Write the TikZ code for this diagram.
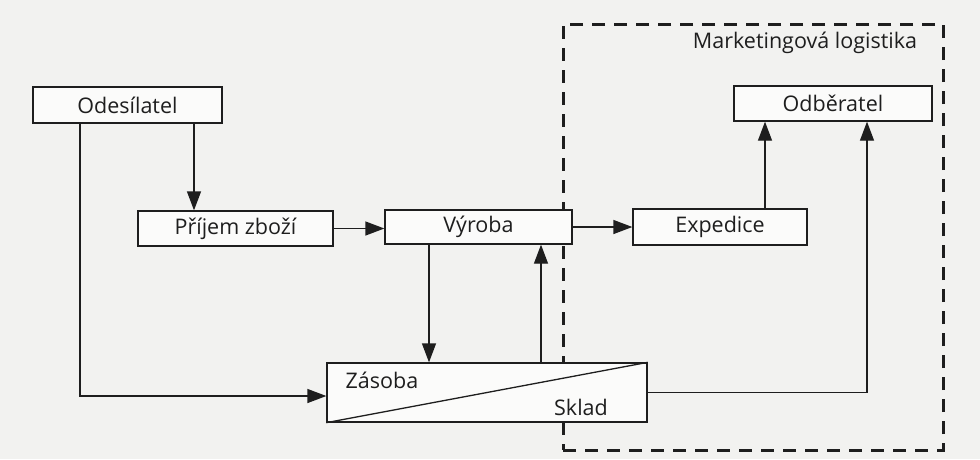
\documentclass[tikz,border=0pt]{standalone}
\usepackage{fontspec}
\setmainfont{Open Sans}
\usetikzlibrary{arrows.meta}
\definecolor{linec}{HTML}{1E1E1E}
\definecolor{bgc}{HTML}{F2F2F0}
\definecolor{boxc}{HTML}{FBFBFA}
\begin{document}
\begin{tikzpicture}[x=1pt,y=-1pt,
  box/.style={draw=linec, line width=1.3pt, fill=boxc, inner sep=0pt, text=linec,
    font=\fontsize{21.5}{25}\selectfont},
  lbl/.style={inner sep=0pt, text=linec, font=\fontsize{21.5}{25}\selectfont},
  arr/.style={draw=linec, line width=1.3pt, -{Triangle[length=19pt,width=14pt]}},
  conn/.style={draw=linec, line width=1.3pt},
  frame/.style={draw=linec, line width=3pt, dash pattern=on 13pt off 9pt, inner sep=0pt}
]
\fill[bgc] (0,0) rectangle (980,459);
\useasboundingbox (0,0) rectangle (980,459);
% dashed frame
\node[frame, minimum width=380, minimum height=426] (mk) at (753,237) {};
\node[lbl] (mktxt) at (805,43) {Marketingová logistika};
% boxes
\node[box, minimum width=189, minimum height=36] (ode) at (127.5,105) {Odesílatel};
\node[box, minimum width=195, minimum height=35] (prij) at (235.5,228.5) {Příjem zboží};
\node[box, minimum width=187, minimum height=34] (vyr) at (478.5,227) {Výroba};
\node[box, minimum width=174, minimum height=36] (exp) at (720,227) {Expedice};
\node[box, minimum width=198, minimum height=35] (odb) at (833,103.5) {Odběratel};
\node[box, minimum width=320, minimum height=59] (skl) at (487,392.5) {};
\draw[conn] (skl.south west) -- (skl.north east);
\node[lbl] (zas) at (382,380) {Zásoba};
\node[lbl] (skd) at (581,407) {Sklad};
% connectors
\coordinate (od1) at ([xshift=66.5]ode.south);
\coordinate (pr1) at ([xshift=-41.5]prij.north);
\draw[arr] (od1) -- (od1 |- pr1);
\coordinate (od2) at ([xshift=-47.5]ode.south);
\coordinate (sk1) at ([yshift=-3.5]skl.west);
\draw[arr] (od2) |- (sk1);
\draw[arr] (prij.east) -- (prij.east -| vyr.west);
\draw[arr] (vyr.east) -- (vyr.east -| exp.west);
\coordinate (vd) at ([xshift=-49.5]vyr.south);
\draw[arr] (vd) -- (vd |- skl.north);
\coordinate (su) at ([xshift=54]skl.north);
\draw[arr] (su) -- (su |- vyr.south);
\coordinate (eu) at ([xshift=45]exp.north);
\draw[arr] (eu) -- (eu |- odb.south);
\coordinate (ku) at ([xshift=34]odb.south);
\draw[arr] (skl.east) -| (ku);
\end{tikzpicture}
\end{document}
